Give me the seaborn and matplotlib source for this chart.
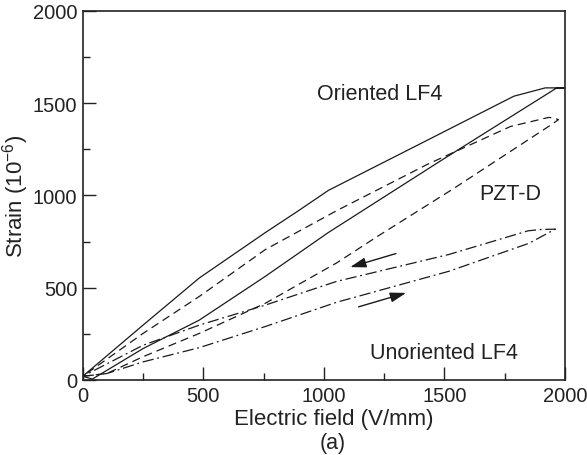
import matplotlib
matplotlib.use("Agg")
import matplotlib.pyplot as plt
import seaborn as sns
import pandas as pd
from matplotlib.ticker import MultipleLocator

sns.set_theme(style="white")
plt.rcParams['font.family'] = ['Liberation Sans', 'DejaVu Sans']
plt.rcParams['mathtext.fontset'] = 'custom'
plt.rcParams['mathtext.rm'] = 'Liberation Sans'

# Oriented LF4 (solid): rising branch then falling branch
lf4o_up_x = [0, 40, 250, 483, 758, 1019, 1500, 1966, 2000]
lf4o_up_y = [20, 5, 170, 324, 562, 799, 1200, 1582, 1582]
lf4o_dn_x = [2000, 1918, 1788, 1431, 1019, 895, 758, 483, 250, 0]
lf4o_dn_y = [1582, 1582, 1537, 1300, 1027, 917, 799, 552, 297, 20]

# PZT-D (dashed)
pzt_up_x = [0, 100, 250, 483, 758, 1053, 1225, 1530, 1932, 1973]
pzt_up_y = [20, 35, 126, 252, 416, 634, 780, 1030, 1373, 1410]
pzt_dn_x = [1973, 1950, 1932, 1774, 1431, 1053, 758, 483, 250, 0]
pzt_dn_y = [1410, 1420, 1422, 1373, 1169, 917, 707, 452, 252, 20]

# Unoriented LF4 (dash-dot)
lf4u_up_x = [0, 100, 250, 483, 758, 1053, 1519, 1850, 1960]
lf4u_up_y = [20, 35, 98, 175, 290, 421, 589, 740, 817]
lf4u_dn_x = [1960, 1900, 1847, 1519, 1053, 758, 483, 250, 0]
lf4u_dn_y = [817, 815, 808, 680, 534, 406, 297, 188, 20]

labels = ["Oriented LF4", "PZT-D", "Unoriented LF4"]
label_x = [1231, 1771, 1500]
label_y = [1551, 1008, 148]

fig = plt.figure(figsize=(5.87, 4.56), dpi=100)
ax = fig.add_axes([82.7/587, 1-381/456, (565-82.7)/587, (381-11.7)/456])

curves = [
    (lf4o_up_x + lf4o_dn_x, lf4o_up_y + lf4o_dn_y, '-'),
    (pzt_up_x + pzt_dn_x, pzt_up_y + pzt_dn_y, (0, (6.5, 4))),
    (lf4u_up_x + lf4u_dn_x, lf4u_up_y + lf4u_dn_y, (0, (9, 3, 1.5, 3))),
]
for xs, ys, ls in curves:
    df = pd.DataFrame({"E": xs, "S": ys})
    sns.lineplot(data=df, x="E", y="S", sort=False, estimator=None, ax=ax,
                 color='#1a1a1a', lw=0.9, linestyle=ls)

# arrows
arrow_style = "-|>,head_length=0.8,head_width=0.25"
ax.annotate("", xy=(1098, 607), xytext=(1310, 689),
            arrowprops=dict(arrowstyle=arrow_style, color='#1a1a1a', lw=1.0))
ax.annotate("", xy=(1352, 476), xytext=(1133, 392),
            arrowprops=dict(arrowstyle=arrow_style, color='#1a1a1a', lw=1.0))

for t, x, y in zip(labels, label_x, label_y):
    ax.text(x, y, t, ha='center', va='center', fontsize=15.5, color='#222222')

ax.set_xlim(0, 2000)
ax.set_ylim(0, 2000)
ax.xaxis.set_major_locator(MultipleLocator(500))
ax.xaxis.set_minor_locator(MultipleLocator(250))
ax.yaxis.set_major_locator(MultipleLocator(500))
ax.yaxis.set_minor_locator(MultipleLocator(250))
ax.tick_params(which='both', direction='in', top=False, right=False, bottom=True, left=True,
               colors='#222222', width=1.0)
ax.tick_params(which='major', length=9.5, labelsize=14.5, pad=4)
ax.tick_params(which='minor', length=5)
for s in ax.spines.values():
    s.set_color('#222222')
    s.set_linewidth(1.2)

ax.set_xlabel("Electric field (V/mm)", fontsize=16, color='#222222')
ax.xaxis.set_label_coords(0.521, -0.076)
ax.set_ylabel("Strain (10$^{\\mathregular{-6}}$)", fontsize=16, color='#222222')
ax.yaxis.set_label_coords(-0.108, 0.5)
fig.text(333/587, 1-444/456, "(a)", ha='center', va='center', fontsize=15.5, color='#222222')

fig.savefig("out.png", dpi=100)
